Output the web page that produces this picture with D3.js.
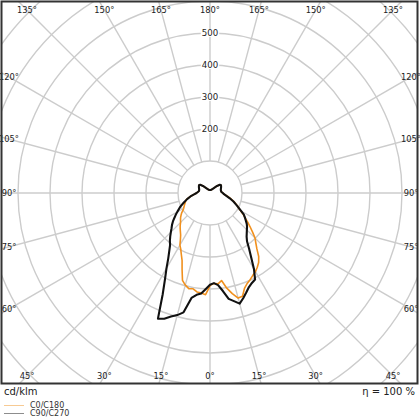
<!DOCTYPE html>
<html><head><meta charset="utf-8">
<script src="https://cdn.jsdelivr.net/npm/d3@7"></script>
<style>body{margin:0;background:#fff}svg{display:block}</style>
</head><body><div id="chart"></div>
<script>
// gamma angles (degrees)
const gamma = [0,2.5,5,7.5,10,12.5,15,17.5,20,22.5,25,27.5,30,32.5,35,37.5,40,42.5,45,47.5,50,52.5,55,57.5,60,65,70,75,80,85,90,95,100,105,110,115,120,125,130,135,140,145,150,155,160,165,170,175,180];
// C0/C180 (orange) right side = C0, left side = C180 (cd/klm)
const c0   = [288,283,285,276,302,322,340,338,316,305,298,290,284,275,265,250,228,212,199,180,163,148,133,122,110,94,80,66,54,44,40,36,35,35,36,38,40,42,40,31,22,17,14,12,10.5,10,9.5,9.5,9.5];
const c180 = [290,318,314,312,304,306,298,286,255,228,212,198,188,172,160,152,145,138,130,125,120,114,108,100,95,88,82,76,62,50,42,38,35,35,36,38,40,42,40,31,22,17,14,12,10.5,10,9.5,9.5,9.5];
// C90/C270 (black) right side = C90, left side = C270
const c90  = [287,282,289,309,336,346,358,345,331,318,310,305,275,240,213,190,178,170,163,157,150,141,133,125,112,93,78,64,52,44,40,36,35,35,36,38,40,42,40,31,22,17,14,12,10.5,10,9.5,9.5,9.5];
const c270 = [287,300,315,321,333,382,395,405,418,425,350,305,272,243,222,205,195,184,173,163,155,146,136,127,118,103,87,74,62,50,42,38,35,35,36,38,40,42,40,31,22,17,14,12,10.5,10,9.5,9.5,9.5];
const ringValues = [100,200,300,400,500,600,700,800,900];
const ringLabels = [200,300,400,500];
const spokeAngles = d3.range(0,360,15);
const angleLabels = [135,150,165,180,165,150,135,120,105,90,75,60,45,30,15,0,15,30,45,60,75,90,105,120];
const series = [
  {name:"C0/C180", right:c0, left:c180, color:"#f0901e", width:1.6},
  {name:"C90/C270", right:c90, left:c270, color:"#111111", width:2.1}
];

const W=420,H=420, cx=210, cy=193;
const fx0=1.5, fy0=1.5, fx1=417.5, fy1=383.5;
const svg=d3.select("#chart").append("svg").attr("width",W).attr("height",H);
const r=d3.scaleLinear().domain([0,100]).range([0,32]);
svg.append("defs").append("clipPath").attr("id","clip").append("rect")
  .attr("x",fx0).attr("y",fy0).attr("width",fx1-fx0).attr("height",fy1-fy0);
const g=svg.append("g").attr("clip-path","url(#clip)");
const gridColor="#cccccc";
// rings
g.selectAll("circle.ring").data(ringValues).join("circle")
  .attr("cx",cx).attr("cy",cy).attr("r",d=>r(d))
  .attr("fill","none").attr("stroke",gridColor).attr("stroke-width",1.4);
// spokes (angle measured from downward direction)
g.selectAll("line.spoke").data(spokeAngles).join("line")
  .attr("x1",d=>cx+r(100)*Math.sin(d*Math.PI/180))
  .attr("y1",d=>cy+r(100)*Math.cos(d*Math.PI/180))
  .attr("x2",d=>cx+r(1000)*Math.sin(d*Math.PI/180))
  .attr("y2",d=>cy+r(1000)*Math.cos(d*Math.PI/180))
  .attr("stroke",gridColor).attr("stroke-width",1.4);
// ring labels
ringLabels.forEach(v=>{
  const t=g.append("text").attr("x",cx).attr("y",cy-r(v)).attr("dy","0.35em")
    .attr("text-anchor","middle").attr("font-family","DejaVu Sans").attr("font-size",8.6)
    .attr("fill","#222").text(v);
  const bb=t.node().getBBox();
  g.insert("rect","text:last-of-type").attr("x",bb.x-1).attr("y",bb.y+1).attr("width",bb.width+2).attr("height",bb.height-2).attr("fill","#fff");
});
// curves
const radial=d3.lineRadial().curve(d3.curveLinear);
series.forEach(s=>{
  const pts=[];
  for(let i=gamma.length-1;i>=0;i--) pts.push([Math.PI+gamma[i]*Math.PI/180, r(s.left[i])]);
  for(let i=0;i<gamma.length;i++) pts.push([Math.PI-gamma[i]*Math.PI/180, r(s.right[i])]);
  g.append("path").attr("transform",`translate(${cx},${cy})`).attr("d",radial(pts))
    .attr("fill","none").attr("stroke",s.color).attr("stroke-width",s.width).attr("stroke-linejoin","round");
});
// angle labels at intersection of spokes with inset rect
const lx0=9, lx1=411, ly0=10, ly1=376;
spokeAngles.forEach((a,i)=>{
  const th=(135+(i*15))%360;
  const ang=th*Math.PI/180;
  const dx=-Math.sin(ang), dy=Math.cos(ang);
  let t=Infinity;
  if(dx>1e-9) t=Math.min(t,(lx1-cx)/dx); if(dx<-1e-9) t=Math.min(t,(lx0-cx)/dx);
  if(dy>1e-9) t=Math.min(t,(ly1-cy)/dy); if(dy<-1e-9) t=Math.min(t,(ly0-cy)/dy);
  svg.append("text").attr("x",cx+dx*t).attr("y",cy+dy*t).attr("dy","0.35em")
    .attr("text-anchor","middle").attr("font-family","DejaVu Sans").attr("font-size",8.3)
    .attr("fill","#222").text(angleLabels[i]+"°");
});
// frame
svg.append("rect").attr("x",fx0).attr("y",fy0).attr("width",fx1-fx0).attr("height",fy1-fy0)
  .attr("fill","none").attr("stroke","#333").attr("stroke-width",2);
// footer texts
svg.append("text").attr("x",4).attr("y",395).attr("font-family","DejaVu Sans").attr("font-size",10).attr("fill","#222").text("cd/klm");
svg.append("text").attr("x",415).attr("y",395).attr("text-anchor","end").attr("font-family","DejaVu Sans").attr("font-size",10).attr("fill","#222").text("η = 100 %");
// legend
series.forEach((s,i)=>{
  const y=405.5+i*8;
  svg.append("line").attr("x1",4).attr("x2",24).attr("y1",y).attr("y2",y).attr("stroke",s.color).attr("stroke-width",0.8).attr("opacity",0.6);
  svg.append("text").attr("x",30).attr("y",y).attr("dy","0.35em").attr("font-family","DejaVu Sans").attr("font-size",8).attr("fill","#333").text(s.name);
});
</script></body></html>
